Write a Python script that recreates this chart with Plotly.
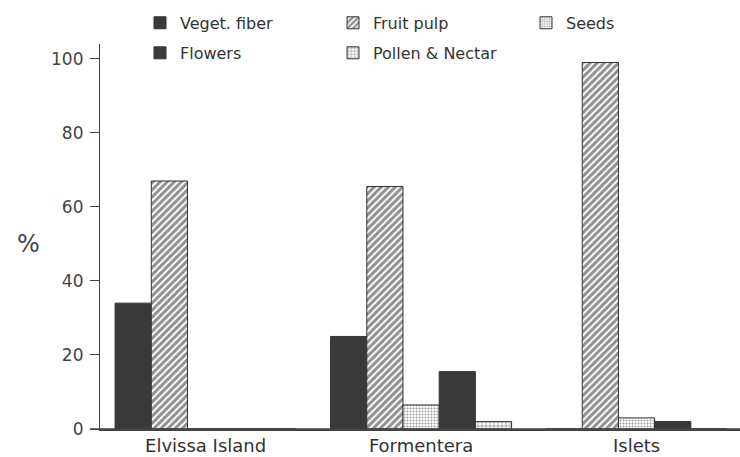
import plotly.graph_objects as go

categories = ["Elvissa Island", "Formentera", "Islets"]
series_names = ["Veget. fiber", "Fruit pulp", "Seeds", "Flowers", "Pollen & Nectar"]
veget_fiber = [34, 25, 0]
fruit_pulp = [67, 65.5, 99]
seeds = [0, 6.5, 3]
flowers = [0, 15.5, 2]
pollen_nectar = [0, 2, 0]
y_ticks = [0, 20, 40, 60, 80, 100]

values = [veget_fiber, fruit_pulp, seeds, flowers, pollen_nectar]
legend_rows = ["legend", "legend", "legend", "legend2", "legend2"]
dark = "#3a3a3a"
patterns = [
    dict(shape=""),
    dict(shape="/", fgcolor="#222222", bgcolor="#ffffff", size=5, solidity=0.6),
    dict(shape=".", fgcolor="#444444", bgcolor="#ffffff", size=3, solidity=0.4),
    dict(shape=""),
    dict(shape="+", fgcolor="#333333", bgcolor="#ffffff", size=4, solidity=0.35),
]
colors = [dark, "#ffffff", "#ffffff", dark, "#ffffff"]

fig = go.Figure()
for name, vals, pat, col, lg in zip(series_names, values, patterns, colors, legend_rows):
    fig.add_trace(go.Bar(
        name=name, x=categories, y=vals, legend=lg,
        marker=dict(color=col, pattern=pat, line=dict(color="#333333", width=1)),
    ))

legend_common = dict(
    orientation="h", x=0.0625, xanchor="left", yanchor="top",
    entrywidth=148, entrywidthmode="pixels",
    font=dict(size=16, color="#333333"),
    bgcolor="rgba(0,0,0,0)", traceorder="normal",
)

fig.update_layout(
    width=740, height=457,
    margin=dict(l=100, r=0, t=44, b=28),
    paper_bgcolor="white", plot_bgcolor="white",
    barmode="group", bargap=0.16, bargroupgap=0,
    font=dict(family="DejaVu Sans", color="#444444"),
    legend=dict(legend_common, y=1.099),
    legend2=dict(legend_common, y=1.021),
    showlegend=True,
)
fig.update_xaxes(
    range=[-0.49, 2.48], showline=True, linecolor="#444444", linewidth=1.5,
    ticks="", tickfont=dict(size=18, color="#333333"), showgrid=False,
    automargin=False,
)
fig.update_yaxes(
    range=[0, 104], tickvals=y_ticks, ticks="outside", ticklen=9,
    tickcolor="#444444", showline=True, linecolor="#444444", linewidth=1.2,
    tickfont=dict(size=17, color="#444444"), showgrid=False, zeroline=False,
    ticklabelstandoff=3, automargin=False,
)
fig.add_annotation(text="%", xref="paper", yref="paper", x=-0.112, y=0.48,
                   xanchor="center", yanchor="middle", showarrow=False,
                   font=dict(size=24, color="#444444"))
fig.add_shape(type="line", xref="paper", yref="y", x0=-0.016, x1=1, y0=0, y1=0,
              line=dict(color="#444444", width=1.5))
fig.write_html("out.html", config={"displayModeBar": False},
               post_script="document.body.style.margin='0';")
